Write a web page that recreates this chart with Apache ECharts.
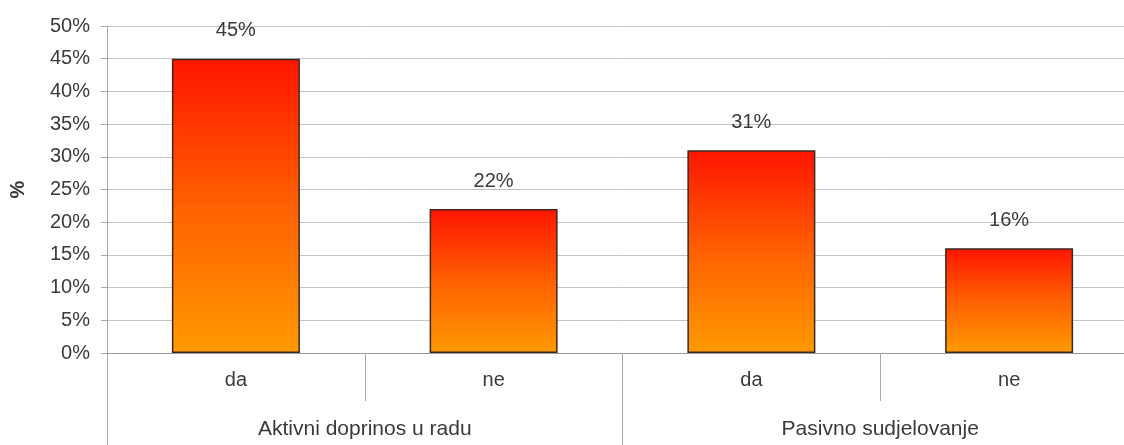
<!DOCTYPE html>
<html>
<head>
<meta charset="utf-8">
<script src="https://cdn.jsdelivr.net/npm/echarts@6/dist/echarts.min.js"></script>
<style>html,body{margin:0;padding:0;background:#fff;overflow:hidden;width:1124px;height:445px;}#c{width:1139px;height:445px;}</style>
</head>
<body>
<div id="c"></div>
<script>
const categories = ['da', 'ne', 'da', 'ne'];
const groups = ['Aktivni doprinos u radu', 'Pasivno sudjelovanje'];
const values = [45, 22, 31, 16];
const yTicks = { min: 0, max: 50, interval: 5 };

const font = 'Liberation Sans, Arial, sans-serif';
const txt = '#3a3a3a';
const chart = echarts.init(document.getElementById('c'));
chart.setOption({
  animation: false,
  backgroundColor: '#ffffff',
  grid: { left: 106, top: 26, bottom: 92, right: 1, containLabel: false },
  xAxis: [
    {
      type: 'category', data: categories, position: 'bottom',
      axisLine: { show: true, lineStyle: { color: '#9a9a9a', width: 1 } },
      axisTick: { show: true, length: 48, lineStyle: { color: '#a8a8a8' } },
      axisLabel: { color: txt, fontSize: 20, fontFamily: font, margin: 17 }
    },
    {
      type: 'category', data: groups, position: 'bottom', offset: 48,
      axisLine: { show: false },
      axisTick: { show: true, length: 50, lineStyle: { color: '#a8a8a8' } },
      axisLabel: { color: txt, fontSize: 21, fontFamily: font, margin: 18 }
    }
  ],
  yAxis: {
    type: 'value', min: yTicks.min, max: yTicks.max, interval: yTicks.interval,
    name: '%', nameLocation: 'middle', nameRotate: 90, nameGap: 79,
    nameTextStyle: { color: txt, fontSize: 20, fontWeight: 'bold', fontFamily: font },
    axisLine: { show: true, lineStyle: { color: '#a8a8a8' } },
    axisTick: { show: true, length: 6, lineStyle: { color: '#a8a8a8' } },
    axisLabel: { color: txt, fontSize: 20, fontFamily: font, margin: 17, formatter: '{value}%' },
    splitLine: { show: true, lineStyle: { color: '#c4c4c4', width: 1 } }
  },
  series: [{
    type: 'bar', xAxisIndex: 0, data: values, barWidth: 128,
    itemStyle: {
      color: new echarts.graphic.LinearGradient(0, 0, 0, 1, [
        { offset: 0, color: '#ff1500' },
        { offset: 0.5, color: '#ff6000' },
        { offset: 1, color: '#ff9a00' }
      ]),
      borderColor: '#3a2a20', borderWidth: 1.5
    },
    label: {
      show: true, position: 'top', distance: 18, formatter: '{c}%',
      color: txt, fontSize: 20, fontFamily: font
    }
  }]
});
</script>
</body>
</html>
